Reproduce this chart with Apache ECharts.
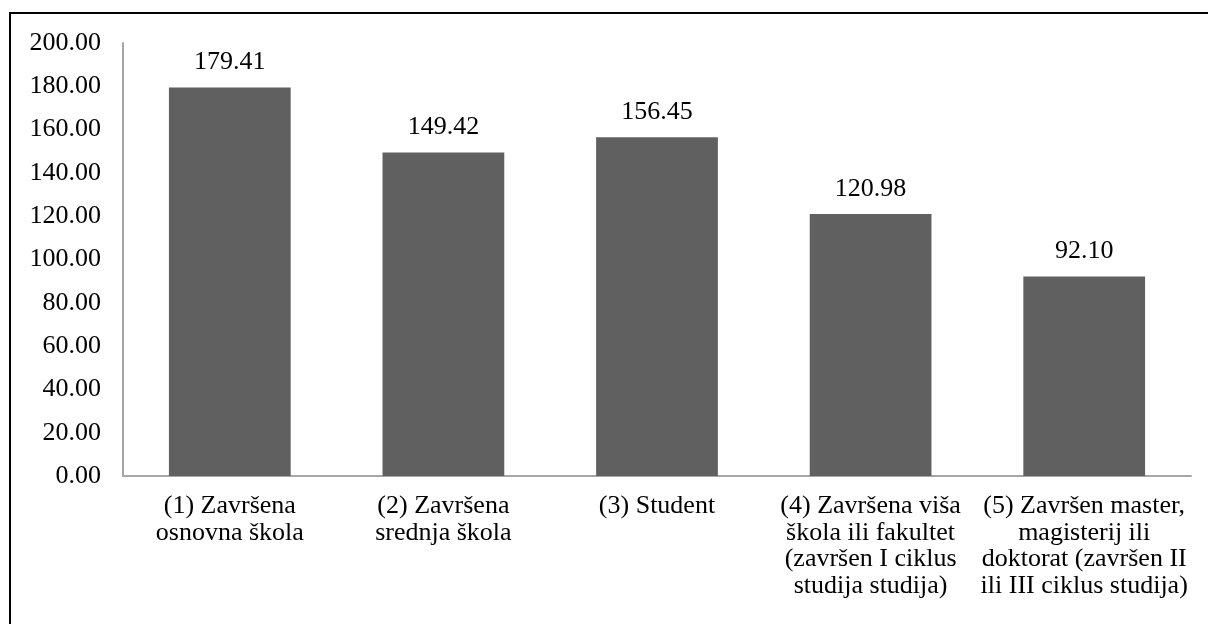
<!DOCTYPE html>
<html>
<head>
<meta charset="utf-8">
<script src="https://cdn.jsdelivr.net/npm/echarts@6/dist/echarts.min.js"></script>
<style>
html, body { margin: 0; padding: 0; background: #fff; }
#frame { position: absolute; left: 9px; top: 12px; width: 1199px; height: 700px;
         border-top: 2px solid #000; border-left: 2px solid #000; box-sizing: border-box; }
#chart { position: absolute; left: 0; top: 0; width: 1209px; height: 624px; }
</style>
</head>
<body>
<div id="frame"></div>
<div id="chart"></div>
<script>
// education level categories
var categories = [
    '(1) Završena\nosnovna škola',
    '(2) Završena\nsrednja škola',
    '(3) Student',
    '(4) Završena viša\nškola ili fakultet\n(završen I ciklus\nstudija studija)',
    '(5) Završen master,\nmagisterij ili\ndoktorat (završen II\nili III ciklus studija)'
];
var values = [179.41, 149.42, 156.45, 120.98, 92.10];

var font = '"Liberation Serif", "Times New Roman", serif';

var mychart = echarts.init(document.getElementById('chart'));
var option = {
    animation: false,
    grid: { left: 123, right: 18, top: 43, bottom: 148, containLabel: false },
    xAxis: {
        type: 'category',
        data: categories,
        axisLine: { lineStyle: { color: '#a6a6a6', width: 2 } },
        axisTick: { show: false },
        axisLabel: {
            interval: 0,
            margin: 17,
            color: '#000',
            fontFamily: font,
            fontSize: 26,
            lineHeight: 26.5,
            align: 'center'
        }
    },
    yAxis: {
        type: 'value',
        min: 0,
        max: 200,
        interval: 20,
        axisLine: { show: true, lineStyle: { color: '#a6a6a6', width: 2 } },
        axisTick: { show: false },
        splitLine: { show: false },
        axisLabel: {
            margin: 22,
            color: '#000',
            fontFamily: font,
            fontSize: 26,
            formatter: function (v) { return v.toFixed(2); }
        }
    },
    series: [
        {
            type: 'bar',
            data: values,
            barWidth: '57%',
            itemStyle: { color: '#606060' },
            label: {
                show: true,
                position: 'top',
                distance: 12,
                color: '#000',
                fontFamily: font,
                fontSize: 26,
                formatter: function (p) { return p.value.toFixed(2); }
            }
        }
    ]
};
mychart.setOption(option);
</script>
</body>
</html>
